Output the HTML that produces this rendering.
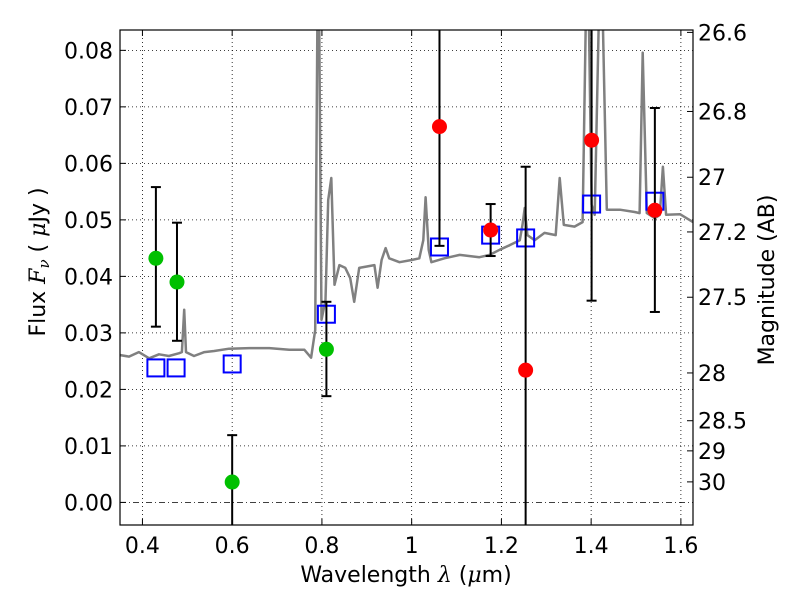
<!DOCTYPE html>
<html><head><meta charset="utf-8"><style>
body{margin:0;background:#fff;}
svg text{font-family:"DejaVu Sans","Liberation Sans",sans-serif;}
</style></head><body>
<svg id="chart" width="800" height="600" viewBox="0 0 800 600" xmlns="http://www.w3.org/2000/svg">
<g id="grid"></g>
<g id="plot"></g>
<rect x="120" y="30" width="573" height="495" fill="none" stroke="#000" stroke-width="1.2"/>
<g id="axes"></g>
<text x="406" y="582" font-size="22" text-anchor="middle">Wavelength  <tspan font-family="DejaVu Serif" font-style="italic">λ</tspan> (<tspan font-family="DejaVu Serif" font-style="italic">μ</tspan>m)</text>
<text transform="translate(45,262) rotate(-90)" font-size="22" text-anchor="middle">Flux  <tspan font-family="DejaVu Serif" font-style="italic">F<tspan font-size="15" dy="4">ν</tspan></tspan><tspan dy="-4">  (  </tspan><tspan font-family="DejaVu Serif" font-style="italic">μ</tspan>Jy )</text>
<text transform="translate(774,280) rotate(-90)" font-size="22" text-anchor="middle">Magnitude (AB)</text>
</svg>
<script>
const specWave=[0.348,0.370,0.392,0.415,0.437,0.459,0.482,0.488,0.493,0.497,0.515,0.538,0.560,0.593,0.638,0.683,0.727,0.761,0.776,0.785,0.790,0.794,0.799,0.808,0.814,0.821,0.828,0.839,0.852,0.863,0.872,0.883,0.917,0.924,0.933,0.942,0.950,0.973,1.000,1.017,1.026,1.031,1.038,1.044,1.073,1.107,1.151,1.174,1.196,1.218,1.241,1.247,1.252,1.258,1.274,1.296,1.321,1.330,1.339,1.363,1.381,1.388,1.395,1.401,1.408,1.417,1.426,1.435,1.464,1.497,1.508,1.515,1.524,1.542,1.553,1.560,1.567,1.598,1.627];
const specFlux=[0.0261,0.0258,0.0266,0.0255,0.0262,0.0259,0.0264,0.0266,0.0341,0.0266,0.0259,0.0266,0.0268,0.0272,0.0273,0.0273,0.0270,0.0270,0.0256,0.0305,0.0854,0.0854,0.0323,0.0358,0.0535,0.0574,0.0385,0.0420,0.0415,0.0397,0.0355,0.0415,0.0420,0.0380,0.0429,0.0450,0.0432,0.0425,0.0429,0.0432,0.0464,0.0540,0.0447,0.0425,0.0432,0.0438,0.0434,0.0438,0.0447,0.0455,0.0464,0.0491,0.0521,0.0473,0.0464,0.0477,0.0473,0.0574,0.0491,0.0488,0.0496,0.0854,0.0854,0.0527,0.0509,0.0854,0.0854,0.0518,0.0518,0.0514,0.0512,0.0796,0.0512,0.0503,0.0509,0.0594,0.0509,0.0510,0.0496];
const modelWave=[0.430,0.475,0.600,0.810,1.062,1.176,1.254,1.401,1.542];
const modelFlux=[0.0238,0.0238,0.0245,0.0333,0.0452,0.0473,0.0468,0.0528,0.0533];
const greenWave=[0.430,0.477,0.600,0.810];
const greenFlux=[0.0432,0.0390,0.0036,0.0271];
const greenHi=[0.0558,0.0495,0.0119,0.0355];
const greenLo=[0.0311,0.0286,-0.010,0.0188];
const redWave=[1.062,1.176,1.254,1.401,1.542];
const redFlux=[0.0665,0.0482,0.0234,0.0641,0.0517];
const redHi=[0.100,0.0528,0.0594,0.100,0.0698];
const redLo=[0.0454,0.0436,-0.010,0.0357,0.0337];
const xTicks=[0.4,0.6,0.8,1.0,1.2,1.4,1.6];
const xTickLabels=["0.4","0.6","0.8","1","1.2","1.4","1.6"];
const yTicks=[0,0.01,0.02,0.03,0.04,0.05,0.06,0.07,0.08];
const yTickLabels=["0.00","0.01","0.02","0.03","0.04","0.05","0.06","0.07","0.08"];
const magTicks=[26.6,26.8,27,27.2,27.5,28,28.5,29,30];
const magTickLabels=["26.6","26.8","27","27.2","27.5","28","28.5","29","30"];

const NS="http://www.w3.org/2000/svg";
const L=120,R=693,T=30,B=525,XMIN=0.35,XMAX=1.627,YMIN=-0.0040,YMAX=0.0836;
const X=w=>L+(w-XMIN)/(XMAX-XMIN)*(R-L);
const Y=f=>B-(f-YMIN)/(YMAX-YMIN)*(B-T);
function mk(tag,at,parent){const e=document.createElementNS(NS,tag);for(const k in at)e.setAttribute(k,at[k]);parent.appendChild(e);return e;}
const grid=document.getElementById('grid'),plot=document.getElementById('plot'),axes=document.getElementById('axes');
const clip=mk('clipPath',{id:'clp'},document.getElementById('chart'));
mk('rect',{x:L,y:T,width:R-L,height:B-T},clip);
plot.setAttribute('clip-path','url(#clp)');
xTicks.forEach((t,i)=>{
 const x=X(t);
 const g=mk('line',{x1:x,x2:x,y1:T,y2:B,stroke:'#000','stroke-width':0.8,'stroke-dasharray':'1,3'},grid);
 
 
 mk('line',{x1:x,x2:x,y1:B,y2:B-6,stroke:'#000'},axes);
 mk('line',{x1:x,x2:x,y1:T,y2:T+6,stroke:'#000'},axes);
 const tx=mk('text',{x:x,y:B+28,'font-size':22,'text-anchor':'middle'},axes);
 tx.textContent=xTickLabels[i];
 
 
});
yTicks.forEach((t,i)=>{
 const y=Y(t);
 const g=mk('line',{x1:L,x2:R,y1:y,y2:y,stroke:'#000','stroke-width':0.8,'stroke-dasharray':t===0?'6,3,1,3':'1,3'},grid);
 
 
 mk('line',{x1:L,x2:L+6,y1:y,y2:y,stroke:'#000'},axes);
 const tx=mk('text',{x:L-7,y:y+8,'font-size':22,'text-anchor':'end'},axes);
 tx.textContent=yTickLabels[i];
 
 
});
magTicks.forEach((m,i)=>{
 const y=Y(Math.pow(10,(23.9-m)/2.5));
 mk('line',{x1:R-6,x2:R,y1:y,y2:y,stroke:'#000'},axes);
 const tx=mk('text',{x:R+5,y:y+8,'font-size':22},axes);
 tx.textContent=magTickLabels[i];
 
 
});
const pts=specWave.map((w,i)=>X(w).toFixed(1)+','+Y(specFlux[i]).toFixed(1)).join(' ');
const sp=mk('polyline',{points:pts,fill:'none',stroke:'#808080','stroke-width':2.5,'stroke-linejoin':'round'},plot);


modelWave.forEach((w,i)=>{
 const r=mk('rect',{x:X(w)-8.5,y:Y(modelFlux[i])-8.5,width:17,height:17,fill:'none',stroke:'#0000ff','stroke-width':2},plot);
 
 
});
function errs(ws,hi,lo,col,fl,name){
 ws.forEach((w,i)=>{
  const x=X(w);
  const l=mk('line',{x1:x,x2:x,y1:Y(hi[i]),y2:Y(lo[i]),stroke:'#000','stroke-width':2},plot);
  
  
  mk('line',{x1:x-5,x2:x+5,y1:Y(hi[i]),y2:Y(hi[i]),stroke:'#000','stroke-width':2},plot);
  mk('line',{x1:x-5,x2:x+5,y1:Y(lo[i]),y2:Y(lo[i]),stroke:'#000','stroke-width':2},plot);
 });
 ws.forEach((w,i)=>{
  const c=mk('circle',{cx:X(w),cy:Y(fl[i]),r:7.5,fill:col},plot);
  
  
 });
}
errs(greenWave,greenHi,greenLo,'#00c000',greenFlux,'optical');
errs(redWave,redHi,redLo,'#ff0000',redFlux,'nir');
</script>
</body></html>
